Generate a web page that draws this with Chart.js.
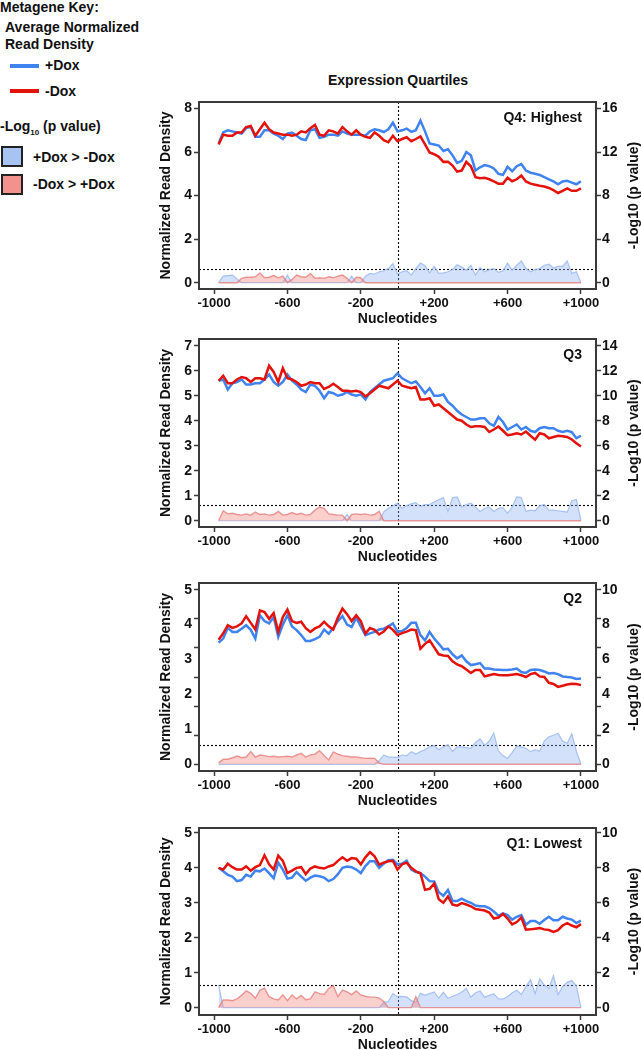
<!DOCTYPE html>
<html><head><meta charset="utf-8">
<script src="https://cdn.jsdelivr.net/npm/chart.js@4.4.1/dist/chart.umd.min.js"></script>
<style>
html,body{margin:0;padding:0;background:#fff;}
body{width:641px;height:1050px;position:relative;overflow:hidden;font-family:'Liberation Sans',Arial,sans-serif;font-weight:bold;color:#111;}
.t{position:absolute;font-size:14px;line-height:16px;white-space:nowrap;}
.sw{position:absolute;}
canvas{position:absolute;}
</style></head><body>
<div class="t" style="left:0;top:-1px">Metagene Key:</div>
<div class="t" style="left:5px;top:19px">Average Normalized</div>
<div class="t" style="left:5px;top:36px">Read Density</div>
<div class="sw" style="left:10px;top:64px;width:29px;height:4px;background:#3f83f0"></div>
<div class="t" style="left:45px;top:57px">+Dox</div>
<div class="sw" style="left:10px;top:89px;width:29px;height:4px;background:#e3120b"></div>
<div class="t" style="left:45px;top:83px">-Dox</div>
<div class="t" style="left:0;top:118px">-Log<span style="font-size:8px;position:relative;top:4px">10</span> (p value)</div>
<div class="sw" style="left:1px;top:146px;width:18px;height:17px;border:2px solid #222;background:#a6c3f4"></div>
<div class="t" style="left:33px;top:149px">+Dox &gt; -Dox</div>
<div class="sw" style="left:1px;top:174px;width:18px;height:17px;border:2px solid #222;background:#f3918c"></div>
<div class="t" style="left:33px;top:176px">-Dox &gt; +Dox</div>
<div class="t" style="left:398px;top:72px;transform:translateX(-50%)">Expression Quartiles</div>

<canvas id="c4"></canvas>
<canvas id="c3"></canvas>
<canvas id="c2"></canvas>
<canvas id="c1"></canvas>

<script>
// ---------- DATA ----------
const positions = [
 -975,-950,-925,-900,-875,-850,-825,-800,-775,-750,
 -725,-700,-675,-650,-625,-600,-575,-550,-525,-500,
 -475,-450,-425,-400,-375,-350,-325,-300,-275,-250,
 -225,-200,-175,-150,-125,-100,-75,-50,-25,0,
 25,50,75,100,125,150,175,200,225,250,
 275,300,325,350,375,400,425,450,475,500,
 525,550,575,600,625,650,675,700,725,750,
 775,800,825,850,875,900,925,950,975,1000];

const xTickValues = [-1000,-600,-200,200,600,1000];
const xTickLabels = ['-1000','-600','-200','+200','+600','+1000'];

// Q4: Highest
const q4Plus = [
 6.4,6.9,7.0,6.95,6.9,6.85,7.1,7.15,6.7,6.7,
 7.0,7.0,6.85,6.75,6.6,6.85,6.9,6.75,6.6,6.55,
 7.0,7.05,6.65,6.7,6.8,6.8,6.75,6.95,6.85,6.8,
 6.8,6.8,6.75,6.95,7.05,7.0,6.92,7.05,7.35,6.95,
 7.0,7.08,6.93,7.0,7.45,6.95,6.4,6.35,6.3,6.05,
 6.13,5.85,5.5,5.6,6.0,5.85,5.15,5.3,5.4,5.35,
 5.25,5.0,4.95,5.32,5.12,5.35,5.45,5.15,5.05,5.0,
 4.95,4.85,4.75,4.65,4.52,4.65,4.68,4.6,4.52,4.66];
const q4Minus = [
 6.35,6.8,6.75,6.75,6.9,6.9,7.15,7.2,6.75,7.05,
 7.35,7.05,6.9,6.85,6.8,6.8,6.75,6.8,6.95,6.9,
 7.1,7.25,6.8,6.75,7.0,6.95,6.85,7.15,6.95,6.8,
 7.0,6.8,6.7,6.65,6.9,6.75,6.55,6.45,6.75,6.5,
 6.6,6.68,6.5,6.6,6.72,6.35,5.98,5.9,5.78,5.55,
 5.56,5.38,5.1,5.15,5.55,5.35,4.85,4.8,4.82,4.75,
 4.65,4.55,4.55,4.82,4.66,4.75,4.92,4.65,4.55,4.5,
 4.45,4.42,4.35,4.25,4.12,4.22,4.33,4.22,4.22,4.33];
const q4PPlus = [
 0,0.6,0.65,0.7,0.35,0,0,0,0,0,
 0,0,0,0,0,0.7,0,0,0,0,
 0,0,0,0,0,0,0,0,0,0.6,
 0,0,0.6,0.85,0.8,1.0,1.1,1.3,1.75,0.8,
 1.0,1.1,0.7,1.3,1.8,1.55,0.9,1.5,0.85,0.9,
 1.0,1.2,1.65,1.45,1.15,1.6,0.7,1.4,1.0,1.2,
 1.3,0.95,1.1,1.8,1.15,1.6,2.0,1.3,1.0,1.2,
 1.3,1.6,1.7,1.35,1.5,1.5,2.0,0.85,1.0,0];
const q4PMinus = [
 0,0,0,0,0,0.4,0.5,0.5,0.55,0.9,
 0.45,0.5,0.65,0.45,0.6,0,0.3,0.7,0.55,0.5,
 0.85,0.4,0.45,0.4,0.55,0.45,0.6,0.7,0.4,0,
 0.5,0.45,0,0,0,0,0,0,0,0,
 0,0,0,0,0,0,0,0,0,0,
 0,0,0,0,0,0,0,0,0,0,
 0,0,0,0,0,0,0,0,0,0,
 0,0,0,0,0,0,0,0,0,0];

// Q3
const q3Plus = [
 5.6,5.65,5.25,5.5,5.55,5.65,5.45,5.45,5.5,5.5,
 5.65,5.85,5.55,5.4,5.55,5.85,5.6,5.45,5.25,5.15,
 5.45,5.4,5.2,4.9,5.15,5.1,5.0,5.05,5.15,5.05,
 5.0,5.05,4.85,5.15,5.3,5.45,5.6,5.65,5.7,5.9,
 5.7,5.6,5.5,5.57,5.35,5.1,5.3,5.0,5.0,5.05,
 4.75,4.6,4.4,4.25,4.15,4.05,4.05,4.1,4.1,3.9,
 3.8,4.15,3.95,3.65,3.75,3.85,3.65,3.75,3.6,3.55,
 3.7,3.75,3.7,3.7,3.6,3.55,3.6,3.55,3.3,3.4];
const q3Minus = [
 5.6,5.8,5.5,5.5,5.65,5.75,5.7,5.55,5.7,5.7,
 5.65,6.2,5.95,5.55,6.1,5.7,5.65,5.55,5.4,5.45,
 5.55,5.5,5.5,5.27,5.35,5.48,5.35,5.2,5.2,5.17,
 5.2,5.15,4.97,5.1,5.25,5.4,5.35,5.3,5.45,5.6,
 5.4,5.35,5.3,5.35,4.85,4.85,4.9,4.6,4.65,4.5,
 4.35,4.2,4.05,4.0,3.85,3.75,3.78,3.78,3.75,3.55,
 3.65,3.77,3.6,3.42,3.45,3.5,3.45,3.57,3.4,3.24,
 3.5,3.45,3.3,3.35,3.4,3.38,3.35,3.25,3.1,2.97];
const q3PPlus = [
 0,0,0,0,0,0,0,0,0,0,
 0,0,0,0,0,0,0,0,0,0,
 0,0,0,0,0,0,0,0,0.5,0,
 0,0,0,0,0,0,0.7,1.0,1.2,1.4,
 1.0,1.2,1.35,1.45,1.15,1.3,1.3,1.5,1.7,1.85,
 0.75,1.85,1.9,1.1,1.3,1.4,1.1,0.75,1.0,1.1,
 0.75,1.0,1.05,0.6,1.1,1.9,1.85,0.75,0.85,0.8,
 1.2,1.3,0.85,0.85,0.8,0.75,0.7,1.6,1.7,0];
const q3PMinus = [
 0,0.8,0.55,0.6,0.5,0.45,0.55,0.45,0.7,0.5,
 0.55,0.45,0.5,0.75,0.45,0.5,0.65,0.5,0.6,0.45,
 0.5,0.85,1.1,1.0,0.55,0.5,0.45,0.45,0,0.5,
 0.55,0.5,0.55,0.45,0.5,0.75,0,0,0,0,
 0,0,0,0,0,0,0,0,0,0,
 0,0,0,0,0,0,0,0,0,0,
 0,0,0,0,0,0,0,0,0,0,
 0,0,0,0,0,0,0,0,0,0];

// Q2
const q2Plus = [
 4.18,4.32,4.69,4.55,4.55,4.66,4.78,4.62,4.32,5.12,
 4.92,4.84,5.06,4.38,4.8,5.12,4.74,4.61,4.44,4.24,
 4.24,4.3,4.38,4.63,4.49,4.68,4.92,5.09,4.8,4.72,
 5.04,4.74,4.44,4.5,4.55,4.63,4.66,4.74,4.84,4.56,
 4.58,4.68,4.86,4.86,4.44,4.26,4.55,4.32,4.14,3.95,
 3.97,3.78,3.64,3.74,3.54,3.41,3.44,3.48,3.29,3.29,
 3.26,3.25,3.24,3.24,3.26,3.29,3.17,3.14,3.24,3.26,
 3.24,3.19,3.12,3.14,3.1,3.02,3.0,2.98,2.93,2.95];
const q2Minus = [
 4.28,4.5,4.78,4.69,4.74,4.84,5.09,4.86,4.63,5.29,
 5.23,5.0,5.2,4.55,5.06,5.32,4.92,4.86,4.9,4.68,
 4.55,4.67,4.74,4.9,4.74,4.63,5.04,5.35,5.16,4.92,
 5.12,4.92,4.49,4.68,4.62,4.46,4.56,4.74,4.62,4.44,
 4.51,4.56,4.63,4.61,3.97,4.14,4.26,4.02,3.78,3.74,
 3.72,3.54,3.43,3.37,3.26,3.14,3.24,3.24,3.02,3.06,
 3.1,3.07,3.06,3.06,3.08,3.1,3.06,3.0,3.1,3.14,
 3.02,3.0,2.8,2.76,2.66,2.7,2.74,2.77,2.76,2.72];
const q2PPlus = [
 0,0,0,0,0,0,0,0,0,0,
 0,0,0,0,0,0,0,0,0,0,
 0,0,0,0,0,0,0,0,0,0,
 0,0,0,0,0,0.25,0.64,0.5,0.5,0.48,
 0.64,0.6,0.87,0.7,0.87,1.0,1.2,1.3,1.0,1.2,
 1.35,0.9,1.2,1.2,1.15,1.1,1.5,1.75,1.3,1.6,
 2.15,0.9,0.6,0.4,0.8,1.25,1.2,1.1,0.87,1.0,
 0.9,1.6,1.9,2.0,2.13,1.6,1.45,2.1,0.9,0];
const q2PMinus = [
 0.1,0.35,0.35,0.45,0.57,0.45,0.5,0.87,0.5,0.64,
 0.6,0.53,0.55,0.5,0.53,0.55,0.5,0.64,0.75,0.5,
 0.65,0.7,0.94,0.6,0.3,0.85,0.7,0.6,0.55,0.5,
 0.5,0.45,0.41,0.42,0.41,0.1,0,0,0,0,
 0,0,0,0,0,0,0,0,0,0,
 0,0,0,0,0,0,0,0,0,0,
 0,0,0,0,0,0,0,0,0,0,
 0,0,0,0,0,0,0,0,0,0];

// Q1: Lowest
const q1Plus = [
 4.0,3.9,3.8,3.75,3.62,3.65,3.8,3.75,3.92,3.9,
 3.98,3.85,3.7,4.15,3.95,3.69,3.72,3.88,3.75,3.63,
 3.72,3.78,3.76,3.72,3.62,3.68,3.82,4.0,4.04,4.02,
 3.95,3.85,4.05,4.19,4.19,4.0,4.12,4.22,4.23,4.1,
 4.12,4.2,3.95,3.88,3.85,3.75,3.62,3.61,3.3,3.2,
 3.37,3.05,3.05,3.12,3.05,3.0,2.92,2.9,2.9,2.85,
 2.75,2.63,2.7,2.65,2.52,2.6,2.65,2.37,2.48,2.48,
 2.4,2.51,2.6,2.5,2.5,2.6,2.55,2.52,2.42,2.49];
const q1Minus = [
 4.0,3.95,4.12,4.02,3.95,3.95,4.04,3.92,4.02,4.08,
 4.36,4.1,3.95,4.35,4.2,3.85,3.92,4.0,4.02,3.82,
 3.98,4.04,4.0,3.98,4.04,4.08,4.2,4.3,4.2,4.28,
 4.26,4.1,4.3,4.45,4.33,4.09,4.15,4.19,4.2,3.95,
 4.1,4.15,4.0,3.9,3.85,3.37,3.4,3.55,3.1,3.0,
 3.18,2.95,2.92,2.99,2.95,2.9,2.82,2.8,2.78,2.72,
 2.55,2.58,2.68,2.55,2.38,2.45,2.58,2.23,2.24,2.26,
 2.28,2.24,2.22,2.17,2.22,2.35,2.42,2.35,2.3,2.39];
const q1PPlus = [
 1.3,0,0,0,0,0,0,0,0,0,
 0,0,0,0,0,0,0,0,0,0,
 0,0,0,0,0,0,0,0,0,0,
 0,0,0,0,0,0,0.3,0.35,0.8,0.63,
 0.65,0.62,0.4,0.3,0.82,0.72,0.8,0.9,0.55,0.88,
 0.54,0.65,0.75,0.9,1.1,0.6,0.85,0.95,0.6,0.7,
 0.8,0.5,0.5,0.63,0.85,1.0,0.75,1.2,1.6,0.8,
 1.65,1.3,1.1,1.84,0.75,1.2,1.45,1.55,1.25,0];
const q1PMinus = [
 0,0.44,0.44,0.4,0.5,0.7,0.96,0.82,0.54,1.0,
 1.11,0.63,0.5,0.44,0.73,0.4,0.73,0.5,0.7,0.45,
 0.5,0.9,0.8,0.76,1.1,1.26,0.63,1.0,0.9,0.75,
 0.96,0.73,0.65,0.6,0.6,0.55,0.35,0,0,0,
 0,0,0,0.63,0,0,0,0,0,0,
 0,0,0,0,0,0,0,0,0,0,
 0,0,0,0,0,0,0,0,0,0,
 0,0,0,0,0,0,0,0,0,0];

// Tick marks and labels per panel
const q4LeftTicks = [0,2,4,6,8];            const q4LeftLabels = ['0','2','4','6','8'];
const q4RightTicks = [0,4,8,12,16];         const q4RightLabels = ['0','4','8','12','16'];
const q3LeftTicks = [0,1,2,3,4,5,6,7];      const q3LeftLabels = ['0','1','2','3','4','5','6','7'];
const q3RightTicks = [0,2,4,6,8,10,12,14];  const q3RightLabels = ['0','2','4','6','8','10','12','14'];
const q2LeftTickMarks = [0,1,2,3,4,5,6];
const q2LeftLabelValues = [0,1.2,2.4,3.6,4.8,6]; const q2LeftLabels = ['0','1','2','3','4','5'];
const q2RightTickMarks = [0,2,4,6,8,10,12];
const q2RightLabelValues = [0,2.4,4.8,7.2,9.6,12]; const q2RightLabels = ['0','2','4','6','8','10'];
const q1LeftTicks = [0,1,2,3,4,5];          const q1LeftLabels = ['0','1','2','3','4','5'];
const q1RightTicks = [0,2,4,6,8,10];        const q1RightLabels = ['0','2','4','6','8','10'];

const significance = 1.3;  // -log10(0.05)

// ---------- RENDERING ----------
const FONT = "'Liberation Sans', Arial, sans-serif";
const BLUE = '#3f83f0', RED = '#e3120b';
const INK = '#111';
const RIGHT_TITLE = '-Log10 (p value)';

function labelFor(v, vals, labs) {
  for (let i = 0; i < vals.length; i++) if (Math.abs(vals[i] - v) < 1e-6) return labs[i];
  return '';
}
function hasVal(arr, v) { return arr.some(a => Math.abs(a - v) < 1e-6); }

const decor = {
  id: 'decor',
  beforeDatasetsDraw(chart, args, o) {
    const {ctx, chartArea: a, scales} = chart;
    ctx.save();
    ctx.strokeStyle = '#000'; ctx.lineWidth = 1.1; ctx.setLineDash([2, 2]);
    const x0 = Math.round(scales.x.getPixelForValue(0)) + 0.5;
    ctx.beginPath(); ctx.moveTo(x0, a.top); ctx.lineTo(x0, a.bottom); ctx.stroke();
    const yT = Math.round(scales.y2.getPixelForValue(significance)) + 0.5;
    ctx.beginPath(); ctx.moveTo(a.left, yT); ctx.lineTo(a.right, yT); ctx.stroke();
    ctx.restore();
  },
  afterDatasetsDraw(chart, args, o) {
    const {ctx, chartArea: a} = chart;
    ctx.save();
    ctx.font = 'bold 14px ' + FONT; ctx.fillStyle = INK;
    ctx.textAlign = 'right'; ctx.textBaseline = 'middle';
    ctx.fillText(o.label, a.right - 14, a.top + 16);
    ctx.strokeStyle = '#3a3a3a'; ctx.lineWidth = 2;
    ctx.strokeRect(a.left, a.top, a.right - a.left, a.bottom - a.top);
    // right axis title, reading bottom-to-top
    ctx.translate(chart.width - 7, (a.top + a.bottom) / 2);
    ctx.rotate(-Math.PI / 2);
    ctx.textAlign = 'center'; ctx.textBaseline = 'middle';
    ctx.fillText(RIGHT_TITLE, 0, 0);
    ctx.restore();
  }
};

const PAD_TOP = 12, XAXIS_H = 42, YL_W = 49, YR_W = 45, CAN_LEFT = 150, CAN_W = 491;

function makePanel(id, p) {
  const cv = document.getElementById(id);
  const h = (p.boxBottom - p.boxTop) + PAD_TOP + XAXIS_H;
  cv.width = CAN_W; cv.height = h;
  cv.style.left = CAN_LEFT + 'px'; cv.style.top = (p.boxTop - PAD_TOP) + 'px';
  cv.style.width = CAN_W + 'px'; cv.style.height = h + 'px';
  const pts = arr => positions.map((x, i) => ({x, y: arr[i]}));
  const tickFont = {family: FONT, size: 14, weight: 'bold'};
  const yScale = (pos, min, max, marks, lvals, labs, title) => ({
    type: 'linear', position: pos, min, max,
    afterBuildTicks: s => {
      const all = [...new Set([...marks, ...lvals])].sort((a, b) => a - b);
      s.ticks = all.map(v => ({value: v}));
    },
    ticks: {
      callback: v => labelFor(v, lvals, labs),
      font: tickFont, color: INK, padding: pos === 'left' ? 2 : 1, autoSkip: false
    },
    grid: {
      drawOnChartArea: false, drawTicks: true, tickLength: 5, tickWidth: 1.5,
      tickColor: c => hasVal(marks, c.tick.value) ? '#3a3a3a' : 'rgba(0,0,0,0)'
    },
    border: {display: false},
    title: {
      display: pos === 'left', text: title, color: INK,
      font: {family: FONT, size: 14, weight: 'bold', lineHeight: 1},
      padding: {top: 9.5, bottom: 0}
    },
    afterFit: s => { s.width = pos === 'left' ? YL_W : YR_W; s.paddingTop = 0; s.paddingBottom = 0; }
  });
  new Chart(cv, {
    type: 'line',
    data: {
      datasets: [
        {data: pts(p.minus), borderColor: RED, borderWidth: 2.5, pointRadius: 0, fill: false, yAxisID: 'y', tension: 0},
        {data: pts(p.plus), borderColor: BLUE, borderWidth: 2.5, pointRadius: 0, fill: false, yAxisID: 'y', tension: 0},
        {data: pts(p.pMinus), borderColor: 'rgba(228,120,118,0.75)', backgroundColor: 'rgba(242,128,122,0.38)',
         borderWidth: 1.4, pointRadius: 0, fill: 'origin', yAxisID: 'y2', tension: 0},
        {data: pts(p.pPlus), borderColor: 'rgba(150,182,240,0.8)', backgroundColor: 'rgba(140,176,242,0.38)',
         borderWidth: 1.2, pointRadius: 0, fill: 'origin', yAxisID: 'y2', tension: 0}
      ]
    },
    options: {
      responsive: false, animation: false, devicePixelRatio: 1,
      layout: {padding: {top: PAD_TOP, left: 0, right: 0, bottom: 0}},
      plugins: {legend: {display: false}, tooltip: {enabled: false}, decor: {label: p.label}},
      scales: {
        x: {
          type: 'linear', min: -1082, max: 1082,
          afterBuildTicks: s => { s.ticks = xTickValues.map(v => ({value: v})); },
          ticks: {callback: v => labelFor(v, xTickValues, xTickLabels),
                  font: {family: FONT, size: 13, weight: 'bold'}, color: INK, padding: 2,
                  maxRotation: 0, autoSkip: false},
          grid: {drawOnChartArea: false, drawTicks: true, tickLength: 5, tickWidth: 1.5, tickColor: '#3a3a3a'},
          border: {display: false},
          title: {display: true, text: 'Nucleotides', color: INK,
                  font: {family: FONT, size: 14, weight: 'bold', lineHeight: 1}, padding: {top: 0, bottom: 5}},
          afterFit: s => { s.height = XAXIS_H; s.paddingLeft = 0; s.paddingRight = 0; }
        },
        y: yScale('left', p.lmin, p.lmax, p.lMarks, p.lVals, p.lLabs, 'Normalized Read Density'),
        y2: yScale('right', p.rmin, p.rmax, p.rMarks, p.rVals, p.rLabs, RIGHT_TITLE)
      }
    },
    plugins: [decor]
  });
}

makePanel('c4', {boxTop: 102, boxBottom: 289, label: 'Q4: Highest',
  plus: q4Plus, minus: q4Minus, pPlus: q4PPlus, pMinus: q4PMinus,
  lmin: -0.29, lmax: 8.3, rmin: -0.58, rmax: 16.6,
  lMarks: q4LeftTicks, lVals: q4LeftTicks, lLabs: q4LeftLabels,
  rMarks: q4RightTicks, rVals: q4RightTicks, rLabs: q4RightLabels});
makePanel('c3', {boxTop: 339, boxBottom: 527, label: 'Q3',
  plus: q3Plus, minus: q3Minus, pPlus: q3PPlus, pMinus: q3PMinus,
  lmin: -0.25, lmax: 7.27, rmin: -0.5, rmax: 14.54,
  lMarks: q3LeftTicks, lVals: q3LeftTicks, lLabs: q3LeftLabels,
  rMarks: q3RightTicks, rVals: q3RightTicks, rLabs: q3RightLabels});
makePanel('c2', {boxTop: 583, boxBottom: 771, label: 'Q2',
  plus: q2Plus, minus: q2Minus, pPlus: q2PPlus, pMinus: q2PMinus,
  lmin: -0.23, lmax: 6.23, rmin: -0.46, rmax: 12.46,
  lMarks: q2LeftTickMarks, lVals: q2LeftLabelValues, lLabs: q2LeftLabels,
  rMarks: q2RightTickMarks, rVals: q2RightLabelValues, rLabs: q2RightLabels});
makePanel('c1', {boxTop: 828, boxBottom: 1015, label: 'Q1: Lowest',
  plus: q1Plus, minus: q1Minus, pPlus: q1PPlus, pMinus: q1PMinus,
  lmin: -0.21, lmax: 5.14, rmin: -0.42, rmax: 10.28,
  lMarks: q1LeftTicks, lVals: q1LeftTicks, lLabs: q1LeftLabels,
  rMarks: q1RightTicks, rVals: q1RightTicks, rLabs: q1RightLabels});
</script>
</body></html>
